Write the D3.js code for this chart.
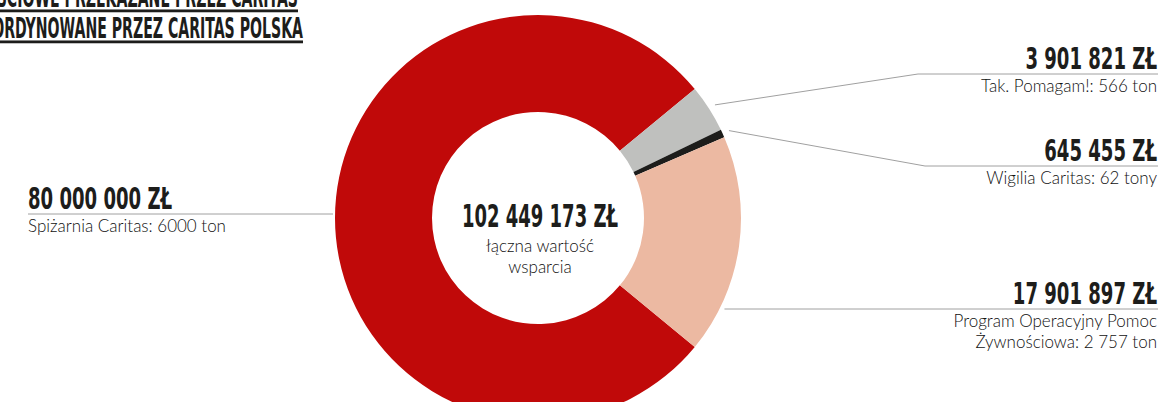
<!DOCTYPE html>
<html>
<head>
<meta charset="utf-8">
<script src="https://cdn.jsdelivr.net/npm/d3@7"></script>
<style>
  body { margin: 0; background: #fff; }
  svg { display: block; }
  .big { font-family: "Liberation Sans Narrow", "DejaVu Sans Condensed", sans-serif; font-weight: 700; fill: #1d1d1b; }
  .small { font-family: Lato, "Open Sans", sans-serif; font-weight: 300; fill: #111; font-size: 17px; }
  .lead { stroke: #a0a0a0; stroke-width: 1; fill: none; }
</style>
</head>
<body>
<svg id="chart"></svg>
<script>
// data
var categories = ["Spiżarnia Caritas", "Tak. Pomagam!", "Wigilia Caritas", "Program Operacyjny Pomoc Żywnościowa"];
var values = [80000000, 3901821, 645455, 17901897];
var tonnage = ["6000 ton", "566 ton", "62 tony", "2 757 ton"];
var subLines = [
  ["Spiżarnia Caritas: 6000 ton"],
  ["Tak. Pomagam!: 566 ton"],
  ["Wigilia Caritas: 62 tony"],
  ["Program Operacyjny Pomoc", "Żywnościowa: 2 757 ton"]
];
var colors = ["#c00909", "#bfc0be", "#1d1d1b", "#ecb9a2"];
var titleLines = ["PRODUKTY ŻYWNOŚCIOWE PRZEKAZANE PRZEZ CARITAS", "KOORDYNOWANE PRZEZ CARITAS POLSKA"];
var centerSub = ["łączna wartość", "wsparcia"];

var width = 1158, height = 402;
var cx = 538, cy = 218, outerR = 203, innerR = 106;

var svg = d3.select("#chart").attr("width", width).attr("height", height);

var pl = d3.formatLocale({decimal: ",", thousands: " ", grouping: [3], currency: ["", " ZŁ"]});
var fmt = pl.format("$,.0f");

var data = values.map(function(v, i) {
  return {name: categories[i], value: v, ton: tonnage[i], sub: subLines[i], color: colors[i]};
});
var total = d3.sum(values);

// red slice centred on the left side
var redShare = values[0] / total * 2 * Math.PI;
var start = 1.5 * Math.PI - redShare / 2;

var pie = d3.pie().sort(null).value(function(d) { return d.value; })
    .startAngle(start).endAngle(start + 2 * Math.PI);
var arc = d3.arc().innerRadius(innerR).outerRadius(outerR);
var arcs = pie(data);

var g = svg.append("g").attr("transform", "translate(" + cx + "," + cy + ")");
g.selectAll("path.slice").data(arcs).enter().append("path")
  .attr("class", "slice")
  .attr("d", arc)
  .attr("fill", function(d) { return d.data.color; });

// centre text
var center = svg.append("g").attr("transform", "translate(" + (cx + 2) + "," + cy + ")");
center.append("text").attr("class", "big")
  .attr("text-anchor", "middle")
  .attr("transform", "translate(0,9) scale(0.625,1)")
  .style("font-size", "32px")
  .text(fmt(total));
center.selectAll("text.cs").data(centerSub).enter().append("text")
  .attr("class", "small cs").attr("text-anchor", "middle")
  .attr("y", function(d, i) { return 34 + i * 21; })
  .text(function(d) { return d; });

// label layout: side, y of the rule, elbow x (for slanted leaders)
var layout = [
  {side: "left",  lineY: 214, x: 28},
  {side: "right", lineY: 74,  elbow: 918},
  {side: "right", lineY: 166, elbow: 925},
  {side: "right", lineY: 309}
];

arcs.forEach(function(a, i) {
  var L = layout[i];
  var pts;
  if (L.elbow) {
    var mid = (a.startAngle + a.endAngle) / 2, r = outerR + 7;
    var sx = cx + r * Math.sin(mid), sy = cy - r * Math.cos(mid);
    pts = [[sx, sy], [L.elbow, L.lineY], [width, L.lineY]];
  } else {
    var dy = L.lineY - cy, dx = Math.sqrt(outerR * outerR - dy * dy);
    if (L.side === "left") pts = [[L.x, L.lineY], [cx - dx - 2, L.lineY]];
    else pts = [[cx + dx + 5, L.lineY], [width, L.lineY]];
  }
  svg.append("path").attr("class", "lead").attr("d", d3.line()(pts));

  var ax = L.side === "left" ? L.x : width - 1;
  var anchor = L.side === "left" ? "start" : "end";
  svg.append("text").attr("class", "big")
    .attr("text-anchor", anchor)
    .attr("transform", "translate(" + ax + "," + (L.lineY - 5) + ") scale(0.67,1)")
    .style("font-size", "30px")
    .text(fmt(a.data.value));
  svg.selectAll(null).data(a.data.sub).enter().append("text")
    .attr("class", "small")
    .attr("text-anchor", anchor)
    .attr("x", ax)
    .attr("y", function(d, j) { return L.lineY + 18 + j * 21; })
    .text(function(d) { return d; });
});

// title (cut at top-left in the original)
svg.selectAll("text.title").data(titleLines).enter().append("text")
  .attr("class", "big title")
  .attr("text-anchor", "end")
  .attr("transform", function(d, i) { return "translate(" + (i === 0 ? 298 : 303) + "," + (7 + i * 31) + ") scale(0.56,1)"; })
  .style("font-size", "28px")
  .style("text-decoration", "underline")
  .text(function(d) { return d; });
</script>
</body>
</html>
